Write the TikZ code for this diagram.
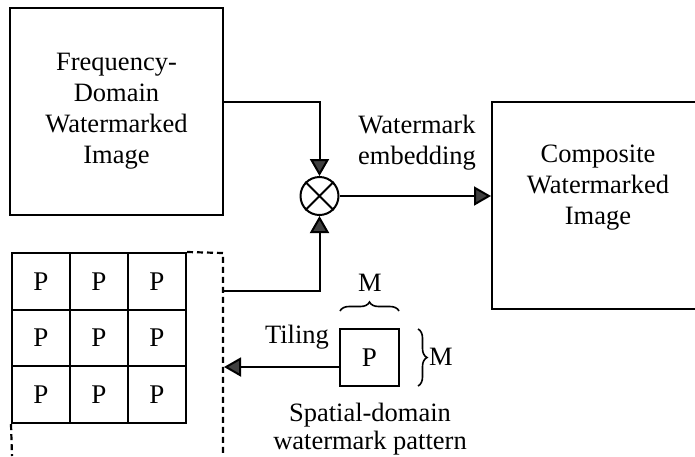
\documentclass[tikz,border=0pt]{standalone}
\usepackage{fontspec}
\setmainfont{Liberation Serif}
\usetikzlibrary{arrows.meta,decorations.pathreplacing}
\begin{document}
\begin{tikzpicture}[x=1pt,y=-1pt,
  line width=2pt,
  txt/.style={font=\fontsize{26.5}{31}\selectfont, align=center, inner sep=0pt},
  box/.style={draw, line width=2pt, inner sep=0pt},
  cell/.style={draw, line width=2pt, minimum width=58pt, minimum height=56.7pt, inner sep=0pt, font=\fontsize{27}{28}\selectfont},
  arr/.style={-{Triangle[length=17pt,width=19pt,fill=black!75]}, color=black},
  dsh/.style={line width=2.2pt, dash pattern=on 6pt off 4pt}
]
\useasboundingbox (0,0) rectangle (695,456);
\begin{scope}
\clip (0,0) rectangle (695,456);
% top-left box
\node[box, minimum width=213pt, minimum height=207pt] (fd) at (116.5,111.5) {};
\node[txt] (fdt) at (116.5,111) {Frequency-\\Domain\\Watermarked\\Image};
% right box
\node[box, minimum width=212pt, minimum height=207pt] (cw) at (598,205.5) {};
\node[txt] (cwt) at (598,188) {Composite\\Watermarked\\Image};
\end{scope}
% multiplier
\node[draw, circle, line width=2pt, minimum size=38pt, inner sep=0pt] (mul) at (319.5,196) {};
\draw[line width=1.8pt] (mul.north west) -- (mul.south east) (mul.north east) -- (mul.south west);
% top connector
\coordinate (c1) at (319.5,102);
\draw[arr] (fd.east |- c1) -- (c1) -- (mul.north);
% bottom connector
\coordinate (c2) at (223,291);
\coordinate (c3) at (319.5,291);
\draw[arr] (c2) -- (c3) -- (mul.south);
% output arrow
\draw[arr] (mul.east) -- (cw.west |- mul.east);
\node[txt] (we) at (417,143) {Watermark\\embedding};
% grid
\foreach \i in {0,1,2}{
  \foreach \j in {0,1,2}{
    \node[cell] (g\i\j) at ({12+58*(\i+0.5)},{253+56.7*(\j+0.5)}) {P};
  }
}
% dashed outline
\coordinate (d1) at (223,253);
\coordinate (d2) at (223,456);
\coordinate (d3) at (12,456);
\draw[dsh] (g20.north east) -- (d1) -- (d2);
\draw[dsh] (g02.south west) -- (d3);
% pattern box
\node[cell, minimum width=59pt, minimum height=57pt] (pb) at (369.5,357.5) {P};
\coordinate (tl) at (224,367);
\draw[arr] ([yshift=-9.5pt]pb.west) -- (tl);
\node[txt] (tiling) at (297,337) {Tiling};
% braces
\draw[line width=1.6pt, decorate, decoration={brace, amplitude=9pt}] (340,311) -- (399,311);
\node[txt] (m1) at (370,283) {M};
\draw[line width=1.6pt, decorate, decoration={brace, amplitude=9pt}] (418,329) -- (418,386);
\node[txt, anchor=west] (m2) at (428,357) {M};
\node[txt, font=\fontsize{26.5}{28}\selectfont] (sd) at (370,429) {Spatial-domain\\watermark pattern};
\end{tikzpicture}
\end{document}
